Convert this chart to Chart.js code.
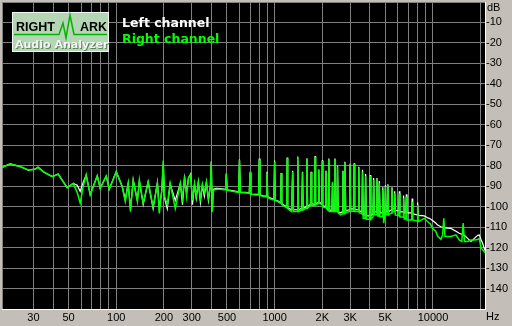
<!DOCTYPE html>
<html>
<head>
<meta charset="utf-8">
<script src="https://cdn.jsdelivr.net/npm/chart.js@4/dist/chart.umd.min.js"></script>
<style>
  html, body { margin: 0; padding: 0; background: #C3BFB8; }
  canvas { display: block; }
</style>
</head>
<body>
<canvas id="c" width="512" height="326"></canvas>
<script>
// ---- Data ----
const freqHz = [
  19, 21.4, 24.7, 27.8, 30.8, 32.1, 34.6, 39.4, 43, 49,
  53.5, 56.7, 59.2, 61.9, 64.6, 68.5, 75.9, 79.2, 86.5, 90.3,
  100, 109, 114, 119, 123, 128, 136, 140, 148, 159,
  171, 182, 187, 194, 198, 202, 210, 219, 236, 254,
  262, 270, 278, 286, 295, 303, 312, 320, 330, 340,
  350, 360, 371, 382, 393, 398, 404, 410, 430, 455,
  490, 495, 502, 540, 592, 600, 608, 650, 692, 700,
  708, 760, 792, 800, 808, 850, 885, 895, 905, 960,
  990, 1000, 1010, 1050, 1090, 1100, 1110, 1160, 1190, 1200,
  1210, 1280, 1300, 1315, 1385, 1400, 1415, 1485, 1500, 1515,
  1585, 1600, 1615, 1685, 1700, 1715, 1785, 1800, 1815, 1885,
  1900, 1915, 1985, 2000, 2015, 2085, 2110, 2135, 2180, 2200,
  2225, 2300, 2320, 2345, 2385, 2405, 2430, 2475, 2495, 2520,
  2613, 2680, 2700, 2735, 2760, 2780, 2810, 2960, 2990, 3020,
  3150, 3175, 3205, 3370, 3400, 3430, 3560, 3590, 3625, 3720,
  3755, 3790, 3975, 4010, 4050, 4180, 4220, 4260, 4390, 4430,
  4470, 4540, 4580, 4630, 4780, 4820, 4880, 4970, 5010, 5060,
  5150, 5190, 5240, 5460, 5510, 5570, 5690, 5730, 5780, 6080,
  6130, 6180, 6470, 6520, 6580, 6740, 6790, 6850, 7330, 7390,
  7450, 7940, 8000, 8070, 8810, 9300, 9640, 9930, 10400, 10710,
  11220, 11500, 11700, 11900, 12360, 12980, 13960, 14640, 15200, 15500,
  15800, 16530, 17370, 18240, 19150, 19610, 20090, 20600, 21300
];

const leftDb = [
  -80.8, -79.1, -80.4, -82.1, -81.7, -80.6, -82.9, -85.3, -84.0, -90.7,
  -88.6, -89.5, -92.5, -88, -84.5, -94, -84.9, -91, -85, -91.5,
  -82.9, -90, -96.5, -88.6, -101, -87, -97, -87.5, -99, -88,
  -101, -88, -101, -92, -79, -96, -101, -89, -97, -88.6,
  -99, -86, -93, -86, -84, -99, -89, -96, -88, -98,
  -89.5, -95, -88, -97, -90, -78, -102.4, -91.5, -91, -91.2,
  -91.5, -84, -91.8, -92.2, -92.8, -77, -93, -93, -93.2, -83.5,
  -93.8, -94, -94, -76.5, -94.2, -94.8, -94.8, -83, -95.2, -96,
  -96.5, -77.5, -96.8, -97.2, -98, -83.5, -98.5, -99.5, -100, -76,
  -100.5, -101.5, -82.5, -101.5, -101.5, -75.5, -101.5, -100.8, -83, -100.8,
  -100, -76.3, -100, -98.8, -83, -98.6, -98.8, -75.3, -98.6, -98,
  -81.8, -97.8, -98.5, -77.3, -99.5, -100, -82.5, -100.5, -101.5, -76.5,
  -101.8, -101.8, -88.5, -101.8, -101.8, -76.5, -101.8, -101.8, -80, -102.5,
  -103, -102.5, -82.5, -102.5, -102.5, -78, -102, -101.5, -79, -101.2,
  -101, -78.8, -101.5, -101.5, -80.5, -102, -102.5, -82, -104, -104,
  -84, -104.5, -104.5, -84.5, -104.5, -103.5, -86, -102.5, -102.5, -86,
  -102.8, -103, -87.5, -103, -103, -90.5, -104, -102.5, -89.5, -102.5,
  -102.5, -89, -102.5, -101.5, -90.5, -101, -101, -92.5, -102, -102,
  -92.5, -102.5, -102.5, -94.5, -103, -103, -94, -103, -103, -96,
  -103.5, -104, -98, -104.3, -104.5, -105.5, -106, -106.8, -108, -109,
  -109.8, -110, -110.2, -110.4, -110.5, -110.6, -112, -113, -113.5, -113.8,
  -114, -115.5, -117, -115.5, -114, -113.8, -116, -118, -121.5
];

const rightDb = [
  -80.8, -79.1, -80.4, -82.1, -81.7, -80.8, -82.9, -85.3, -84.2, -90.7,
  -88.6, -93, -98.3, -90, -84.5, -94.3, -84.9, -91, -85, -91.5,
  -82.9, -90.2, -97.5, -88.6, -102.4, -87, -97.5, -87, -98.3, -87.8,
  -100, -88.6, -103.2, -92, -77.5, -95, -99, -88.6, -101, -88.6,
  -96, -85, -95, -86, -84.5, -97, -89, -95, -88, -96,
  -89, -93, -88, -96, -90, -78.3, -102.4, -92, -91.5, -91.5,
  -91.8, -83.7, -92, -92.5, -93, -77.2, -93.2, -93.2, -93.5, -83,
  -94, -94.3, -94.3, -76.9, -94.5, -95, -95.1, -83.4, -95.5, -96.5,
  -96.7, -78, -97, -97.5, -98.3, -83.7, -99, -100, -100.5, -76.4,
  -101, -102.4, -82.9, -102.4, -102.4, -75.9, -102.4, -101.6, -83.2, -101.6,
  -100.8, -76.7, -100.8, -99.4, -83.2, -99.2, -99.4, -75.6, -99.2, -98.5,
  -82, -98.3, -99, -77.7, -100, -100.5, -82.9, -101, -102, -76.9,
  -102.4, -102.4, -88, -102.4, -102.4, -76.9, -102.4, -102.4, -80.4, -103,
  -104, -103.5, -83.2, -103.5, -103.5, -78.5, -103, -102.4, -79.3, -102.2,
  -102.2, -79.1, -102.4, -102.4, -81.2, -103, -103.5, -82.9, -105.7, -105.7,
  -85, -106.2, -106.2, -85, -106.2, -105, -87, -104, -104, -86.6,
  -104.5, -104.5, -88.6, -104.9, -104.9, -91.8, -108.1, -104, -90.2, -104,
  -104, -89.5, -104, -103.2, -91.8, -102.5, -102.5, -93.5, -104, -104.5,
  -93.5, -105, -105, -95.9, -106, -106, -95, -106.5, -106.5, -97.5,
  -106.5, -107, -99.2, -107.3, -105.7, -107.5, -108.5, -110.6, -112, -114.5,
  -116, -113.8, -105.7, -114.5, -114.6, -114.6, -113.8, -116.3, -117, -108,
  -117, -117, -116.3, -116.3, -116, -115.5, -120.3, -121, -122.5
];

const seriesNames = ['Left channel', 'Right channel'];
const seriesColors = ['#FFFFFF', '#00FF00'];

const xMinHz = 19;
const xMaxHz = 21300;
const gridHz = [19, 30, 40, 50, 60, 70, 80, 90, 100, 200, 300, 400, 500, 600, 700, 800, 900,
  1000, 2000, 3000, 4000, 5000, 6000, 7000, 8000, 9000, 10000, 20000];
const labelHz = [30, 50, 100, 200, 300, 500, 1000, 2000, 3000, 5000, 10000];
const labelHzText = ['30', '50', '100', '200', '300', '500', '1000', '2K', '3K', '5K', '10000'];

const yMinDb = -150;
const yMaxDb = 0;
const gridDb = [0, -10, -20, -30, -40, -50, -60, -70, -80, -90, -100, -110, -120, -130, -140];
const yUnit = 'dB';
const xUnit = 'Hz';

// ---- Build datasets ----
function toPoints(vals) {
  return freqHz.map((f, i) => ({ x: f, y: vals[i] }));
}

const bgPlugin = {
  id: 'bg',
  beforeDraw(chart) {
    const ctx = chart.ctx, a = chart.chartArea;
    ctx.save();
    ctx.fillStyle = '#C3BFB8';
    ctx.fillRect(0, 0, chart.width, chart.height);
    ctx.fillStyle = '#000000';
    ctx.fillRect(a.left, a.top, a.right - a.left, a.bottom - a.top);
    ctx.restore();
  },
  afterDraw(chart) {
    const ctx = chart.ctx, a = chart.chartArea;
    ctx.save();
    // Logo box
    ctx.fillStyle = '#B5D6B5';
    ctx.fillRect(12, 12, 97, 40);
    ctx.strokeStyle = '#F4F8F4';
    ctx.lineWidth = 1;
    ctx.strokeRect(12.5, 12.5, 96, 39);
    ctx.fillStyle = '#000000';
    ctx.font = 'bold 12.5px "Liberation Sans", Arial, sans-serif';
    ctx.textBaseline = 'alphabetic';
    ctx.textAlign = 'left';
    ctx.fillText('RIGHT', 16, 31);
    ctx.fillText('ARK', 80, 31);
    ctx.strokeStyle = '#00B400';
    ctx.lineWidth = 1.5;
    ctx.beginPath();
    ctx.moveTo(14, 34.5);
    ctx.lineTo(59, 34.5);
    ctx.lineTo(63, 23);
    ctx.lineTo(66, 38);
    ctx.lineTo(70, 15);
    ctx.lineTo(74, 34.5);
    ctx.lineTo(107, 34.5);
    ctx.stroke();
    ctx.font = 'bold 11px "DejaVu Sans", sans-serif';
    ctx.fillStyle = '#5E805E';
    ctx.fillText('Audio Analyzer', 16, 49);
    ctx.fillStyle = '#F4F4F4';
    ctx.fillText('Audio Analyzer', 15, 48);

    // Legend (from datasets)
    ctx.font = 'bold 12.5px "DejaVu Sans", sans-serif';
    chart.data.datasets.forEach((ds, i) => {
      ctx.fillStyle = ds.borderColor;
      ctx.fillText(ds.label, 122, 27 + i * 15.5);
    });

    // Axis unit labels
    ctx.fillStyle = '#000000';
    ctx.font = '11px "Liberation Sans", Arial, sans-serif';
    ctx.textBaseline = 'top';
    ctx.fillText(yUnit, a.right + 2, 2);
    ctx.fillText(xUnit, a.right + 1, a.bottom + 2);
    ctx.restore();
  }
};

new Chart(document.getElementById('c'), {
  type: 'line',
  data: {
    datasets: [
      { label: seriesNames[0], data: toPoints(leftDb), borderColor: seriesColors[0], borderWidth: 1.2, order: 2 },
      { label: seriesNames[1], data: toPoints(rightDb), borderColor: seriesColors[1], borderWidth: 1.5, order: 1 }
    ]
  },
  options: {
    responsive: false,
    animation: false,
    devicePixelRatio: 1,
    parsing: false,
    layout: { padding: { left: 2, top: 2, right: 0, bottom: 0 } },
    elements: {
      line: { tension: 0, fill: false },
      point: { radius: 0 }
    },
    plugins: { legend: { display: false }, tooltip: { enabled: false } },
    scales: {
      x: {
        type: 'logarithmic',
        position: 'bottom',
        min: xMinHz,
        max: xMaxHz,
        afterBuildTicks(scale) { scale.ticks = gridHz.map(v => ({ value: v })); },
        afterFit(scale) { scale.height = 17; scale.paddingLeft = 0; scale.paddingRight = 0; },
        grid: { color: '#808080', lineWidth: 1, drawTicks: false },
        border: { color: '#FFFFFF', width: 1 },
        ticks: {
          autoSkip: false, maxRotation: 0, minRotation: 0, padding: 2,
          color: '#000000',
          font: { family: '"Liberation Sans", Arial, sans-serif', size: 11 },
          callback(v) {
            const k = labelHz.indexOf(v);
            return k >= 0 ? labelHzText[k] : '';
          }
        }
      },
      y: {
        type: 'linear',
        position: 'right',
        min: yMinDb,
        max: yMaxDb,
        afterBuildTicks(scale) { scale.ticks = gridDb.map(v => ({ value: v })); },
        afterFit(scale) { scale.width = 27; scale.paddingTop = 0; scale.paddingBottom = 0; },
        grid: { color: '#808080', lineWidth: 1, drawTicks: false },
        border: { color: '#FFFFFF', width: 1 },
        ticks: {
          padding: 1,
          color: '#000000',
          font: { family: '"Liberation Sans", Arial, sans-serif', size: 11 },
          callback(v) { return v === 0 ? '' : String(v); }
        }
      }
    }
  },
  plugins: [bgPlugin]
});
</script>
</body>
</html>
